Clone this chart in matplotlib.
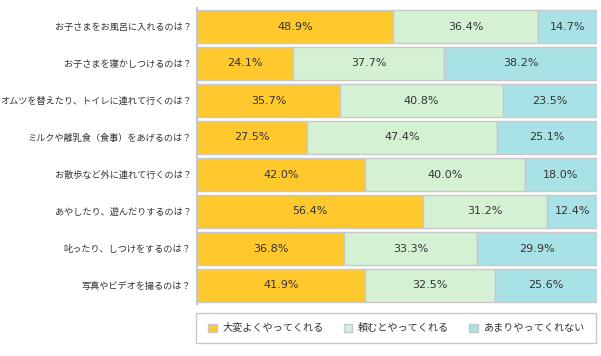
import numpy as np
import matplotlib.pyplot as plt
from matplotlib.patches import Rectangle

plt.rcParams['font.family'] = ['Noto Sans CJK JP', 'DejaVu Sans']

questions = [
    "お子さまをお風呂に入れるのは？",
    "お子さまを寝かしつけるのは？",
    "オムツを替えたり、トイレに連れて行くのは？",
    "ミルクや離乳食（食事）をあげるのは？",
    "お散歩など外に連れて行くのは？",
    "あやしたり、遊んだりするのは？",
    "叱ったり、しつけをするのは？",
    "写真やビデオを撮るのは？",
]
series_names = ["大変よくやってくれる", "頼むとやってくれる", "あまりやってくれない"]
very_often = [48.9, 24.1, 35.7, 27.5, 42.0, 56.4, 36.8, 41.9]
when_asked = [36.4, 37.7, 40.8, 47.4, 40.0, 31.2, 33.3, 32.5]
rarely = [14.7, 38.2, 23.5, 25.1, 18.0, 12.4, 29.9, 25.6]
colors = ["#FFC82C", "#D4F1D4", "#A8E2E6"]

fig = plt.figure(figsize=(6.01, 3.56), dpi=100)
ax = fig.add_axes([197/601, 1-304/356, 400/601, 296/356])

y = np.arange(len(questions))
left = np.zeros(len(questions))
handles = []
for vals, col, name in zip([very_often, when_asked, rarely], colors, series_names):
    vals = np.array(vals)
    b = ax.barh(y, vals, left=left, height=0.89, color=col,
                edgecolor="#c8c8c8", linewidth=1, label=name)
    handles.append(b)
    for yi, l, v in zip(y, left, vals):
        ax.text(l + v/2, yi, f"{v:.1f}%", ha="center", va="center",
                fontsize=8, color="#333333", family="DejaVu Sans")
    left += vals

ax.set_xlim(0, 100)
ax.set_ylim(len(questions) - 0.5, -0.5)
ax.set_yticks(y)
ax.set_yticklabels(questions, fontsize=6.6, color="#333333")
ax.tick_params(axis="y", length=0, pad=4)
ax.set_xticks([])
for s in ["top", "right", "bottom"]:
    ax.spines[s].set_visible(False)
ax.spines["left"].set_color("#c0c8d8")
ax.spines["left"].set_linewidth(1.5)

# legend box
fig.add_artist(Rectangle((196/601, 1-343/356), 400/601, 30/356,
                         transform=fig.transFigure, fill=False,
                         edgecolor="#c8c8c8", linewidth=1))
leg = fig.legend(handles=handles, labels=series_names, ncol=3,
                 bbox_to_anchor=(208/601, 1-328/356), loc="center left",
                 frameon=False, fontsize=7.3, handlelength=0.85,
                 handleheight=0.85, handletextpad=0.55, columnspacing=2.0,
                 borderpad=0, borderaxespad=0, labelcolor="#333333")

fig.savefig("out.png", dpi=100)
